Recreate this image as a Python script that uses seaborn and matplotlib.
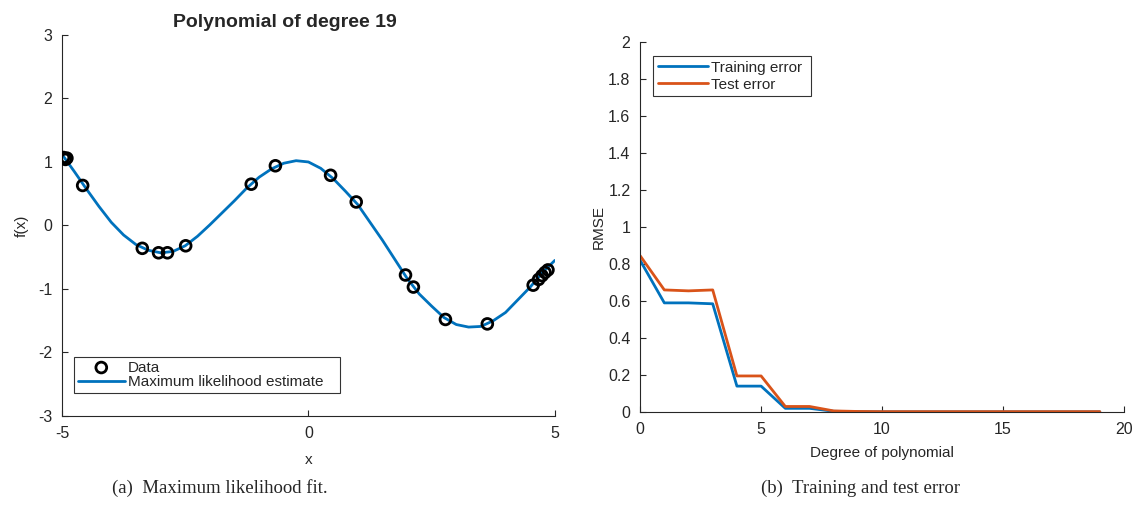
import numpy as np
import pandas as pd
import seaborn as sns
import matplotlib
matplotlib.use("Agg")
import matplotlib.pyplot as plt

# ---- data ----
data_x = [-4.97, -4.93, -4.90, -4.58, -3.37, -3.04, -2.86, -2.49, -1.16, -0.67,
          0.45, 0.97, 1.97, 2.13, 2.78, 3.63, 4.56, 4.67, 4.74, 4.80, 4.86]
data_y = [1.07, 1.04, 1.06, 0.63, -0.36, -0.43, -0.43, -0.32, 0.65, 0.94,
          0.79, 0.37, -0.78, -0.97, -1.48, -1.55, -0.94, -0.85, -0.79, -0.74, -0.70]

fit_x = [-5.0, -4.75, -4.5, -4.25, -4.0, -3.75, -3.5, -3.25, -3.0, -2.75, -2.5,
         -2.25, -2.0, -1.75, -1.5, -1.25, -1.0, -0.75, -0.5, -0.25, 0.0,
         0.25, 0.5, 0.75, 1.0, 1.25, 1.5, 1.75, 2.0, 2.25, 2.5,
         2.75, 3.0, 3.25, 3.5, 3.75, 4.0, 4.25, 4.5, 4.75, 5.0]
fit_y = [1.12, 0.85, 0.57, 0.30, 0.05, -0.15, -0.30, -0.39, -0.43, -0.41, -0.32,
         -0.17, 0.01, 0.20, 0.39, 0.59, 0.76, 0.89, 0.98, 1.02, 1.00,
         0.90, 0.74, 0.54, 0.33, 0.05, -0.23, -0.53, -0.83, -1.08, -1.27,
         -1.45, -1.56, -1.60, -1.59, -1.50, -1.37, -1.17, -0.97, -0.74, -0.55]

degrees = list(range(20))
train_rmse = [0.82, 0.59, 0.59, 0.585, 0.14, 0.14, 0.02, 0.02, 0.004, 0.002,
              0.001, 0.001, 0.001, 0.001, 0.001, 0.001, 0.001, 0.001, 0.001, 0.001]
test_rmse = [0.845, 0.66, 0.655, 0.66, 0.195, 0.195, 0.03, 0.03, 0.006, 0.003,
             0.002, 0.002, 0.002, 0.002, 0.002, 0.002, 0.002, 0.002, 0.002, 0.002]

blue = "#0072BD"
orange = "#D95319"

sns.set_style("ticks", {"xtick.direction": "in", "ytick.direction": "in"})
plt.rcParams["font.family"] = ["Liberation Sans", "DejaVu Sans"]
plt.rcParams["axes.unicode_minus"] = False
plt.rcParams["axes.edgecolor"] = "#262626"
plt.rcParams["xtick.color"] = "#262626"
plt.rcParams["ytick.color"] = "#262626"

fig = plt.figure(figsize=(11.37, 5.14), dpi=100)
ax1 = fig.add_axes([0.0545, 0.1907, 0.4335, 0.7413])
ax2 = fig.add_axes([0.563, 0.1984, 0.4256, 0.7198])

# left: ML fit
df_pts = pd.DataFrame({"x": data_x, "y": data_y})
df_fit = pd.DataFrame({"x": fit_x, "y": fit_y})
sns.scatterplot(data=df_pts, x="x", y="y", ax=ax1, marker="o", s=60,
                facecolor="none", edgecolor="black", linewidth=2, label="Data", zorder=3)
sns.lineplot(data=df_fit, x="x", y="y", ax=ax1, color=blue, linewidth=2,
             label="Maximum likelihood estimate", zorder=2)
ax1.set_xlim(-5, 5)
ax1.set_ylim(-3, 3)
ax1.set_xticks([-5, 0, 5])
ax1.set_yticks([-3, -2, -1, 0, 1, 2, 3])
ax1.set_xlabel("x", fontsize=11, labelpad=9)
ax1.set_ylabel("f(x)", fontsize=11, labelpad=7)
ax1.set_title("Polynomial of degree 19", fontsize=14, fontweight="bold", x=0.453, pad=6)
h1, l1 = ax1.get_legend_handles_labels()
leg1 = ax1.legend(h1, [l1[0], l1[1] + "   "], loc="lower left",
                  bbox_to_anchor=(0.024, 0.06), fancybox=False,
                  edgecolor="black", fontsize=11, borderpad=0.25, labelspacing=0.05,
                  handlelength=3.1, handletextpad=0.2, borderaxespad=0)
leg1.get_frame().set_linewidth(0.8)

# right: train / test error
df_err = pd.DataFrame({"degree": degrees * 2,
                       "rmse": train_rmse + test_rmse,
                       "set": ["Training error"] * 20 + ["Test error"] * 20})
sns.lineplot(data=df_err, x="degree", y="rmse", hue="set", ax=ax2,
             palette={"Training error": blue, "Test error": orange}, linewidth=2)
ax2.set_xlim(0, 20)
ax2.set_ylim(0, 2)
ax2.set_xticks([0, 5, 10, 15, 20])
ax2.set_yticks(np.arange(0, 2.01, 0.2))
ax2.set_yticklabels(["0", "0.2", "0.4", "0.6", "0.8", "1", "1.2", "1.4", "1.6", "1.8", "2"])
ax2.set_xlabel("Degree of polynomial", fontsize=11, labelpad=7)
ax2.set_ylabel("RMSE", fontsize=11, labelpad=2)
h2, l2 = ax2.get_legend_handles_labels()
leg2 = ax2.legend(h2, [l2[0] + " ", l2[1]], loc="upper left",
                  bbox_to_anchor=(0.027, 0.962), fancybox=False,
                  edgecolor="black", fontsize=11, borderpad=0.3, labelspacing=0.2,
                  handlelength=3.3, handletextpad=0.2, borderaxespad=0)
leg2.get_frame().set_linewidth(0.8)

for ax in (ax1, ax2):
    sns.despine(ax=ax)
    ax.tick_params(labelsize=11.5, length=4, width=0.8, pad=7)

fig.text(0.193, 0.05, "(a)  Maximum likelihood fit.", ha="center", va="center",
         fontsize=13.5, family="Liberation Serif")
fig.text(0.757, 0.05, "(b)  Training and test error", ha="center", va="center",
         fontsize=13.5, family="Liberation Serif")

fig.savefig("out.png", dpi=100)
